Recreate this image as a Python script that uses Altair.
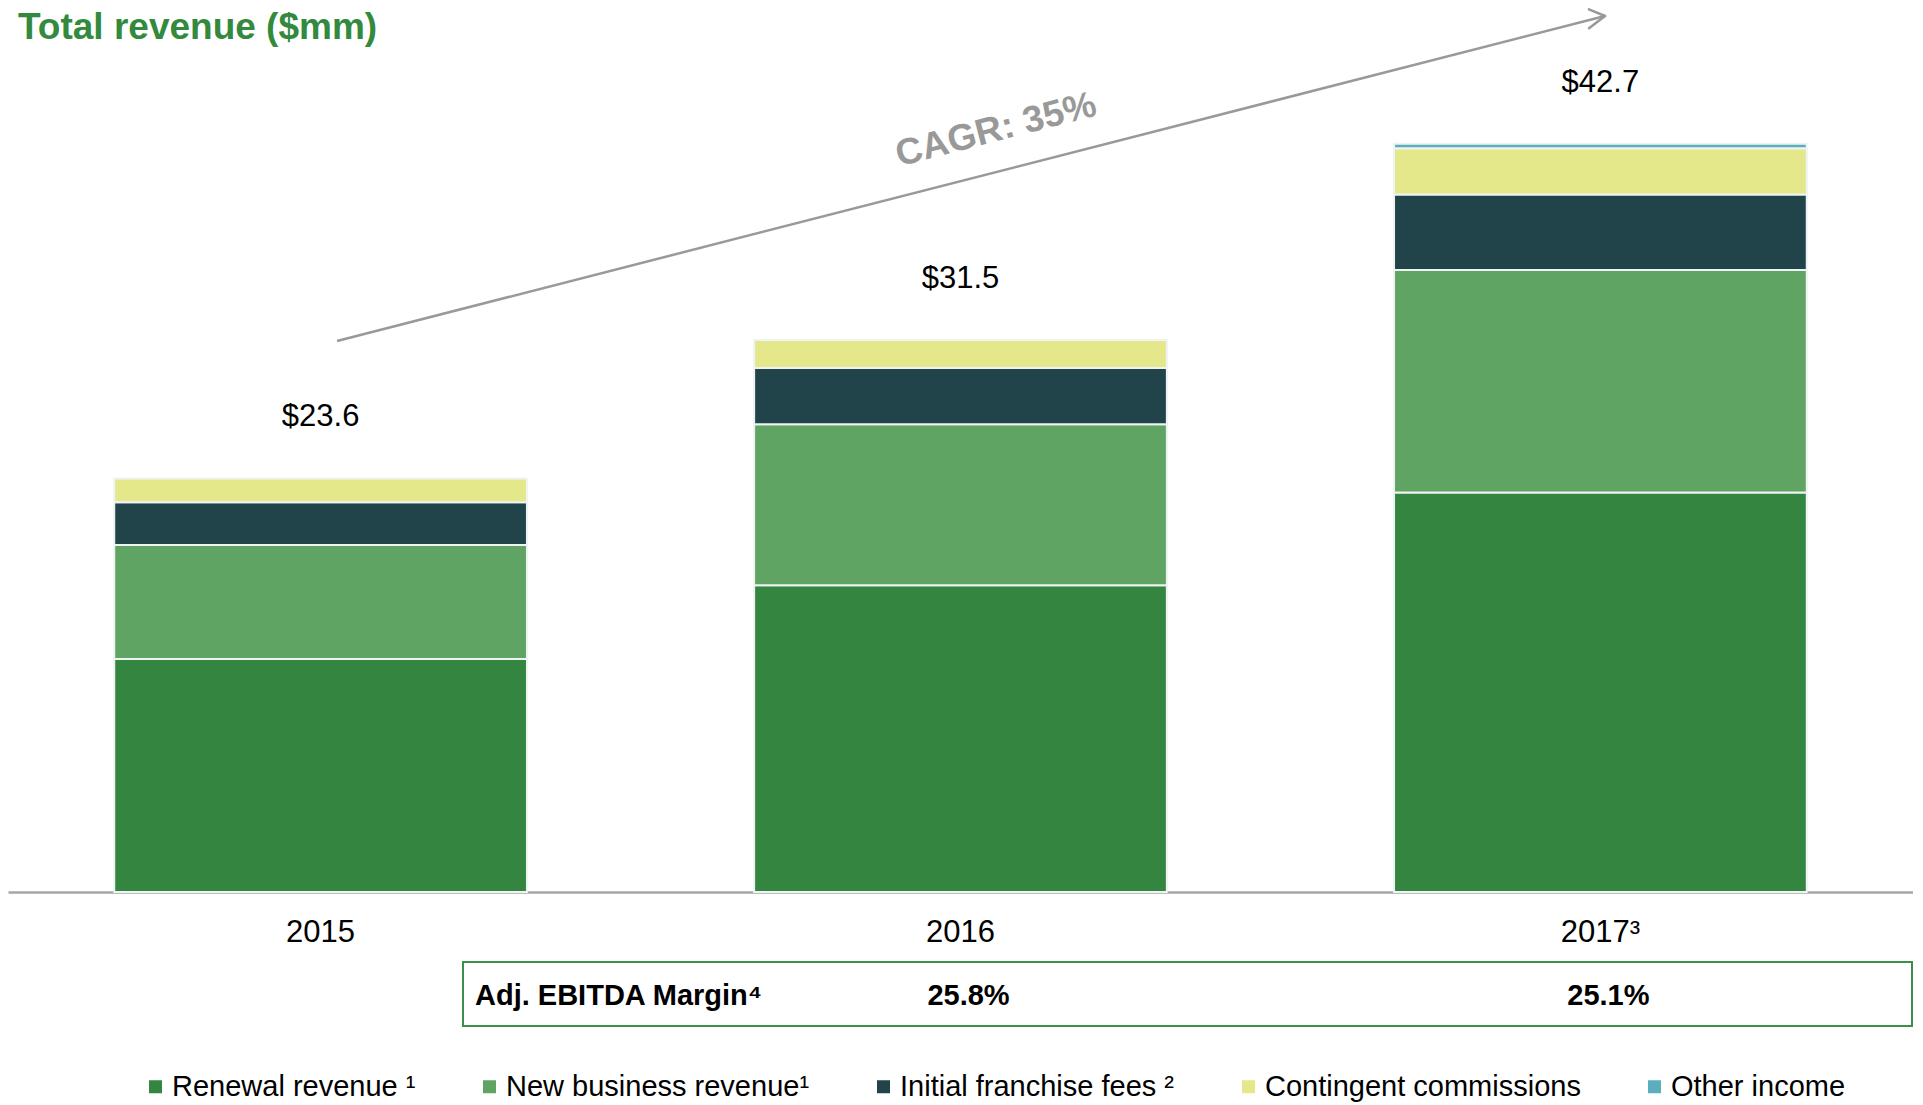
import altair as alt
import pandas as pd

# ---- data ----
years = ["2015", "2016", "2017³"]
series = ["Renewal revenue ¹", "New business revenue¹", "Initial franchise fees ²",
          "Contingent commissions", "Other income"]
colors = ["#348540", "#5fa463", "#21444a", "#e4e88a", "#5aaebf"]
renewal = [13.3, 17.5, 22.8]
new_business = [6.5, 9.2, 12.7]
franchise = [2.45, 3.2, 4.3]
contingent = [1.35, 1.6, 2.65]
other_income = [0.0, 0.0, 0.25]
totals = [23.6, 31.5, 42.7]
total_labels = ["$23.6", "$31.5", "$42.7"]
margin_years = ["2016", "2017³"]
margin_labels = ["25.8%", "25.1%"]

FONT = "Liberation Sans"
GREEN = "#338a3e"
GREY = "#999999"

rows = []
for i, s in enumerate(series):
    vals = [renewal, new_business, franchise, contingent, other_income][i]
    for y, v in zip(years, vals):
        if v > 0:
            rows.append({"year": y, "series": s, "value": v, "idx": i})
df = pd.DataFrame(rows)

x_scale = alt.Scale(domain=years, paddingInner=0.355, paddingOuter=0.166)
y_scale = alt.Scale(domain=[0, 50.45], nice=False, zero=True)

bars = alt.Chart(df).mark_bar(stroke="#eef3f3", strokeWidth=2).encode(
    x=alt.X("year:N", sort=years, scale=x_scale, title=None,
            axis=alt.Axis(labelAngle=0, ticks=False, labelPadding=25,
                          labelFontSize=31, labelColor="#000000", labelFont=FONT,
                          domainColor="#a6a6a6", domainWidth=2.5, grid=False)),
    y=alt.Y("value:Q", stack="zero", scale=y_scale, axis=None),
    color=alt.Color("series:N", scale=alt.Scale(domain=series, range=colors),
                    legend=alt.Legend(orient="none", legendX=133, legendY=1064,
                                      direction="horizontal", title=None,
                                      symbolType="square", symbolSize=169,
                                      symbolStrokeWidth=0, labelFontSize=29,
                                      labelFont=FONT, labelColor="#000000",
                                      labelOffset=2, columnPadding=59,
                                      labelLimit=0, padding=0)),
    order=alt.Order("idx:Q", sort="ascending"),
)

tot_df = pd.DataFrame({"year": years, "total": totals, "label": total_labels})
tot = alt.Chart(tot_df).mark_text(fontSize=31, dy=-52, baseline="alphabetic",
                                   color="#000000", font=FONT).encode(
    x=alt.X("year:N", sort=years, scale=x_scale),
    y=alt.Y("total:Q", scale=y_scale),
    text="label:N",
)

one = pd.DataFrame({"k": [0]})

title_t = alt.Chart(one).mark_text(fontSize=37, fontWeight="bold", color=GREEN,
                                    align="left", baseline="alphabetic", font=FONT).encode(
    x=alt.value(10), y=alt.value(31), text=alt.value("Total revenue ($mm)"))

# CAGR arrow: shaft and the two arms of an open head
tip_x, tip_y = 1597, 8
arrow_line = alt.Chart(one).mark_rule(color=GREY, strokeWidth=2.5).encode(
    x=alt.value(329), y=alt.value(333), x2=alt.value(tip_x), y2=alt.value(tip_y))
arm_up = alt.Chart(one).mark_rule(color=GREY, strokeWidth=2.5, strokeCap="round").encode(
    x=alt.value(tip_x - 16), y=alt.value(tip_y - 6.7), x2=alt.value(tip_x), y2=alt.value(tip_y))
arm_down = alt.Chart(one).mark_rule(color=GREY, strokeWidth=2.5, strokeCap="round").encode(
    x=alt.value(tip_x - 16), y=alt.value(tip_y + 12.3), x2=alt.value(tip_x), y2=alt.value(tip_y))

cagr = alt.Chart(one).mark_text(fontSize=37, fontWeight="bold", color=GREY,
                                 angle=345.5, align="center", baseline="middle",
                                 font=FONT).encode(
    x=alt.value(988), y=alt.value(122), text=alt.value("CAGR: 35%"))

box = alt.Chart(one).mark_rect(fill="#ffffff", stroke="#3d8f47", strokeWidth=2).encode(
    x=alt.value(455), x2=alt.value(1904), y=alt.value(954), y2=alt.value(1018))

ebitda_label = alt.Chart(one).mark_text(fontSize=29, fontWeight="bold", color="#000000",
                                         align="left", baseline="alphabetic",
                                         font=FONT).encode(
    x=alt.value(467), y=alt.value(997), text=alt.value("Adj. EBITDA Margin⁴"))

m_df = pd.DataFrame({"year": margin_years, "margin": margin_labels})
margins_t = alt.Chart(m_df).mark_text(fontSize=29, fontWeight="bold", color="#000000",
                                       baseline="alphabetic", dx=8, font=FONT).encode(
    x=alt.X("year:N", sort=years, scale=x_scale),
    y=alt.value(997),
    text="margin:N",
)

chart = alt.layer(bars, tot, title_t, arrow_line, arm_up, arm_down, cagr, box,
                  ebitda_label, margins_t).properties(
    width=1905, height=884, padding=0, background="#ffffff"
).configure(font=FONT).configure_view(stroke=None)

chart.save("out.html", embed_options={"renderer": "svg", "actions": False})
